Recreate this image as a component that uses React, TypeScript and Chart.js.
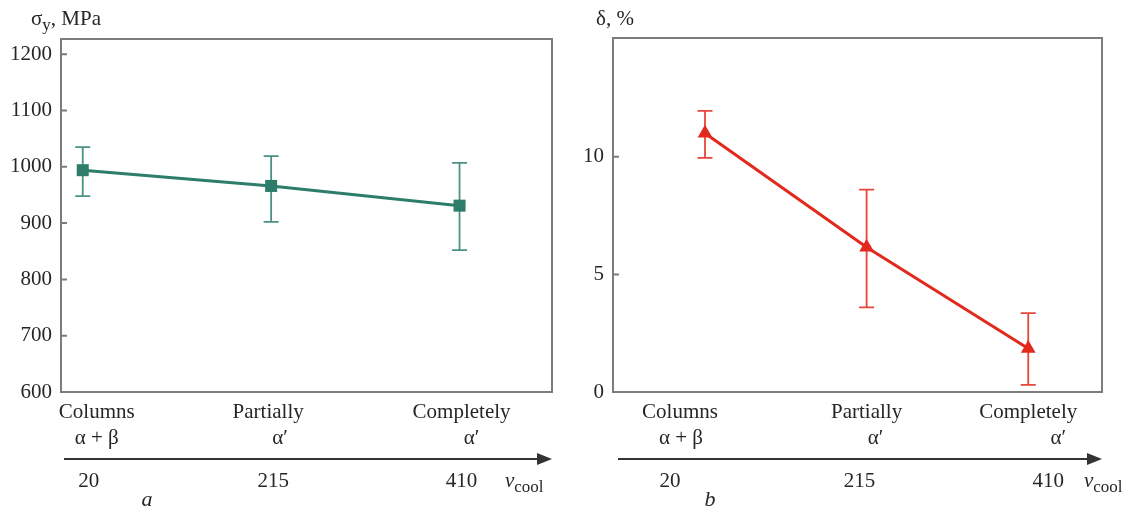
import React, { useEffect, useRef } from "react";
import { Chart, registerables } from "chart.js";

Chart.register(...registerables);

// ---------------- data ----------------
const coolingRates = [20, 215, 410];
const rateLabels = ["20", "215", "410"];
const structureLabels = ["Columns", "Partially", "Completely"];
const phaseLabels = ["α + β", "α′", "α′"];

const yieldStrength = [994, 966, 931];
const yieldLow = [948, 902, 852];
const yieldHigh = [1035, 1019, 1007];
const yieldTicks = [600, 700, 800, 900, 1000, 1100, 1200];

const elongation = [11.0, 6.15, 1.85];
const elongLow = [9.95, 3.6, 0.3];
const elongHigh = [11.95, 8.6, 3.35];
const elongTicks = [0, 5, 10];

// ---------------- styles / layout ----------------
const FONT = '"Liberation Serif", "Times New Roman", serif';
const TEXT = "#262626";
const FRAME = "#7c7c7c";
const H = 515;
const PANEL_W = 564;

type Part = { text: string; sub?: boolean; italic?: boolean };

interface PanelCfg {
  offsetLeft: number;
  area: { left: number; right: number; top: number; bottom: number };
  xMin: number;
  xMax: number;
  yMin: number;
  yMax: number;
  ticks: number[];
  values: number[];
  lows: number[];
  highs: number[];
  color: string;
  errColor: string;
  pointStyle: string;
  radius: number;
  title: Part[];
  titleX: number;
  titleBase: number;
  structOff: number[];
  phaseOff: number[];
  rateOff: number[];
  arrowFrom: number;
  arrowTo: number;
  vcoolX: number;
  letter: string;
  letterX: number;
}

const leftCfg: PanelCfg = {
  offsetLeft: 0,
  area: { left: 61, right: 552, top: 39, bottom: 392 },
  xMin: -2.5,
  xMax: 505.7,
  yMin: 600,
  yMax: 1227,
  ticks: yieldTicks,
  values: yieldStrength,
  lows: yieldLow,
  highs: yieldHigh,
  color: "#2e7d6b",
  errColor: "#4a9384",
  pointStyle: "rect",
  radius: 8.5,
  title: [{ text: "σ" }, { text: "y", sub: true }, { text: ", MPa" }],
  titleX: 31,
  titleBase: 25,
  structOff: [14, -3, 2],
  phaseOff: [14, 9, 12],
  rateOff: [6, 2, 2],
  arrowFrom: 64,
  arrowTo: 552,
  vcoolX: 505,
  letter: "a",
  letterX: 147,
};

const rightCfg: PanelCfg = {
  offsetLeft: 564,
  area: { left: 49, right: 538, top: 38, bottom: 392 },
  xMin: -91,
  xMax: 499,
  yMin: 0,
  yMax: 15.05,
  ticks: elongTicks,
  values: elongation,
  lows: elongLow,
  highs: elongHigh,
  color: "#e3281c",
  errColor: "#e6473b",
  pointStyle: "triangle",
  radius: 8.5,
  title: [{ text: "δ, %" }],
  titleX: 32,
  titleBase: 25,
  structOff: [-25, 0, 0],
  phaseOff: [-24, 9, 30],
  rateOff: [-35, -7, 20],
  arrowFrom: 54,
  arrowTo: 538,
  vcoolX: 520,
  letter: "b",
  letterX: 146,
};

function drawParts(ctx: CanvasRenderingContext2D, parts: Part[], x: number, base: number, size: number) {
  ctx.textAlign = "left";
  ctx.textBaseline = "alphabetic";
  let cx = x;
  for (const p of parts) {
    const fs = p.sub ? Math.round(size * 0.8) : size;
    ctx.font = `${p.italic ? "italic " : ""}${fs}px ${FONT}`;
    ctx.fillText(p.text, cx, p.sub ? base + 5 : base);
    cx += ctx.measureText(p.text).width;
  }
}

function Panel({ cfg }: { cfg: PanelCfg }) {
  const ref = useRef<HTMLCanvasElement | null>(null);

  useEffect(() => {
    if (!ref.current) return;
    const a = cfg.area;

    const decor = {
      id: "decor",
      beforeDatasetsDraw(chart: any) {
        const ctx = chart.ctx as CanvasRenderingContext2D;
        const xs = chart.scales.x;
        const ys = chart.scales.y;
        ctx.save();
        ctx.strokeStyle = cfg.errColor;
        ctx.lineWidth = 1.8;
        coolingRates.forEach((r, i) => {
          const px = xs.getPixelForValue(r);
          const y1 = ys.getPixelForValue(cfg.lows[i]);
          const y2 = ys.getPixelForValue(cfg.highs[i]);
          ctx.beginPath();
          ctx.moveTo(px, y1);
          ctx.lineTo(px, y2);
          ctx.moveTo(px - 7.5, y1);
          ctx.lineTo(px + 7.5, y1);
          ctx.moveTo(px - 7.5, y2);
          ctx.lineTo(px + 7.5, y2);
          ctx.stroke();
        });
        ctx.restore();
      },
      afterDraw(chart: any) {
        const ctx = chart.ctx as CanvasRenderingContext2D;
        const xs = chart.scales.x;
        const ys = chart.scales.y;
        const ca = chart.chartArea;
        ctx.save();
        // frame
        ctx.strokeStyle = FRAME;
        ctx.lineWidth = 2;
        ctx.strokeRect(ca.left, ca.top, ca.right - ca.left, ca.bottom - ca.top);
        // inner tick marks
        ctx.beginPath();
        cfg.ticks.forEach((t) => {
          const py = ys.getPixelForValue(t);
          if (Math.abs(py - ca.bottom) < 2) return;
          ctx.moveTo(ca.left, py);
          ctx.lineTo(ca.left + 6, py);
        });
        ctx.stroke();

        ctx.fillStyle = TEXT;
        // title
        drawParts(ctx, cfg.title, cfg.titleX, cfg.titleBase, 21);

        // category labels
        ctx.textAlign = "center";
        ctx.textBaseline = "middle";
        ctx.font = `21px ${FONT}`;
        coolingRates.forEach((r, i) => {
          const px = xs.getPixelForValue(r);
          ctx.fillText(structureLabels[i], px + cfg.structOff[i], 412);
          ctx.fillText(phaseLabels[i], px + cfg.phaseOff[i], 438);
          ctx.fillText(rateLabels[i], px + cfg.rateOff[i], 481);
        });

        // arrow
        ctx.strokeStyle = "#333";
        ctx.fillStyle = "#333";
        ctx.lineWidth = 2;
        ctx.beginPath();
        ctx.moveTo(cfg.arrowFrom, 459);
        ctx.lineTo(cfg.arrowTo - 10, 459);
        ctx.stroke();
        ctx.beginPath();
        ctx.moveTo(cfg.arrowTo, 459);
        ctx.lineTo(cfg.arrowTo - 15, 453);
        ctx.lineTo(cfg.arrowTo - 15, 465);
        ctx.closePath();
        ctx.fill();

        ctx.fillStyle = TEXT;
        drawParts(ctx, [{ text: "v", italic: true }, { text: "cool", sub: true }], cfg.vcoolX, 487, 21);

        ctx.textAlign = "center";
        ctx.textBaseline = "middle";
        ctx.font = `italic 22px ${FONT}`;
        ctx.fillText(cfg.letter, cfg.letterX, 500);
        ctx.restore();
      },
    };

    const chart = new Chart(ref.current, {
      type: "line",
      data: {
        datasets: [
          {
            data: coolingRates.map((r, i) => ({ x: r, y: cfg.values[i] })),
            borderColor: cfg.color,
            backgroundColor: cfg.color,
            borderWidth: 3,
            pointStyle: cfg.pointStyle as any,
            pointRadius: cfg.radius,
            pointBackgroundColor: cfg.color,
            pointBorderColor: cfg.color,
            pointBorderWidth: 0,
            tension: 0,
          },
        ],
      },
      options: {
        animation: false,
        responsive: false,
        devicePixelRatio: 1,
        layout: {
          padding: { left: 0, top: a.top, right: PANEL_W - a.right, bottom: H - a.bottom },
        },
        plugins: { legend: { display: false }, tooltip: { enabled: false } },
        scales: {
          x: { type: "linear", display: false, min: cfg.xMin, max: cfg.xMax },
          y: {
            type: "linear",
            min: cfg.yMin,
            max: cfg.yMax,
            grid: { display: false, drawTicks: false },
            border: { display: false },
            ticks: {
              font: { family: FONT, size: 21 },
              color: TEXT,
              padding: 9,
              callback: (v: any) => String(v),
            },
            afterBuildTicks: (s: any) => {
              s.ticks = cfg.ticks.map((v) => ({ value: v }));
            },
            afterFit: (s: any) => {
              s.width = a.left;
            },
          },
        },
      },
      plugins: [decor],
    });
    return () => chart.destroy();
  }, [cfg]);

  return (
    <canvas
      ref={ref}
      width={PANEL_W}
      height={H}
      style={{ position: "absolute", left: cfg.offsetLeft, top: 0, width: PANEL_W, height: H }}
    />
  );
}

export default function App() {
  return (
    <div style={{ position: "fixed", left: 0, top: 0, width: 1128, height: H, background: "#fff" }}>
      <Panel cfg={leftCfg} />
      <Panel cfg={rightCfg} />
    </div>
  );
}
